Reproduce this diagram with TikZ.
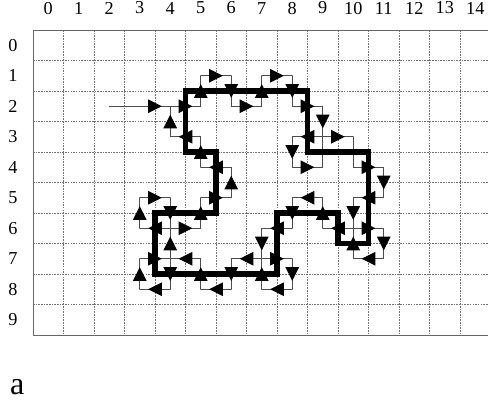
\documentclass[tikz,border=0pt]{standalone}
\usepackage{fontspec}
\setmainfont{Liberation Serif}
\usetikzlibrary{decorations.markings}
\begin{document}
\begin{tikzpicture}[x=1cm,y=-1cm,
  gridline/.style={draw=black!55, line width=0.55pt, dash pattern=on 1.5pt off 1pt},
  frameline/.style={draw=black!60, line width=0.9pt},
  lab/.style={font=\fontsize{17}{17}\selectfont, inner sep=0pt},
  thinpath/.style={draw=black!70, line width=0.8pt, line cap=round, line join=round},
  tri/.style={postaction={decorate, decoration={markings, mark=at position #1 with {\fill[black] (6.5pt,0pt) -- (-6.5pt,6.5pt) -- (-6.5pt,-6.5pt) -- cycle;}}}},
  tri/.default=0.5,
  contour/.style={draw=black, line width=5.4pt, line join=miter}
]
\useasboundingbox (-1.082,-0.984) rectangle (14.918,12.36);
% grid
\foreach \c in {1,...,14} \draw[gridline] (\c,0) -- (\c,10);
\foreach \r in {1,...,9} \draw[gridline] (0,\r) -- (15,\r);
\draw[frameline] (15,0) -- (0,0) -- (0,10) -- (15,10);
% labels
\foreach \c in {0,...,14} \node[lab] (cx\c) at (\c+0.5,-0.72) {\c};
\foreach \r in {0,...,9} \node[lab] (ry\r) at (-0.66,\r+0.5) {\r};
\node[font=\fontsize{30}{30}\selectfont, inner sep=0pt] (lbl) at (-0.52,11.72) {a};
% pixel centres
\foreach \c in {2,...,12} \foreach \r in {0,...,9} \coordinate (p\c-\r) at (\c+0.5,\r+0.5);
\coordinate (e0) at (2.5,2.5);
% entry
\draw[thinpath, tri=0.75] (e0) -- (p4-2);
% tracing steps
\foreach \a/\b/\m in {5-2/5-1/1, 5-1/6-1/1, 6-1/6-2/1, 6-2/7-2/1, 7-2/7-1/1, 7-1/8-1/1, 8-1/8-2/1, 8-2/9-2/1,
  9-2/9-3/1, 9-3/8-3/1, 8-3/8-4/1, 8-4/9-4/1, 9-4/9-3/0, 9-3/10-3/1, 10-3/10-4/0, 10-4/11-4/1,
  11-4/11-5/1, 11-5/10-5/1, 10-5/10-6/1, 10-6/11-6/1, 11-6/11-7/1, 11-7/10-7/1, 10-7/10-6/1, 10-6/9-6/1,
  9-6/9-5/1, 9-5/8-5/1, 8-5/8-6/1, 8-6/7-6/1, 7-6/7-7/1, 7-7/8-7/1, 8-7/8-8/1, 8-8/7-8/1,
  7-8/7-7/1, 7-7/6-7/1, 6-7/6-8/1, 6-8/5-8/1, 5-8/5-7/1, 5-7/4-7/1, 4-7/4-8/1, 4-8/3-8/1,
  3-8/3-7/1, 3-7/4-7/1, 4-7/4-6/1, 4-6/3-6/1, 3-6/3-5/1, 3-5/4-5/1, 4-5/4-6/1, 4-6/5-6/1,
  5-6/5-5/1, 5-5/6-5/1, 6-5/6-4/1, 6-4/5-4/1, 5-4/5-3/1, 5-3/4-3/1, 4-3/4-2/1, 4-2/5-2/1}
{
  \draw[thinpath] (p\a) -- (p\b);
  \ifnum\m=1 \path[tri] (p\a) -- (p\b); \fi
}
% contour
\draw[contour] (5,2) -- (9,2) -- (9,4) -- (11,4) -- (11,7) -- (10,7) -- (10,6) -- (8,6) -- (8,8) -- (4,8) -- (4,6) -- (6,6) -- (6,4) -- (5,4) -- cycle;
\end{tikzpicture}
\end{document}
